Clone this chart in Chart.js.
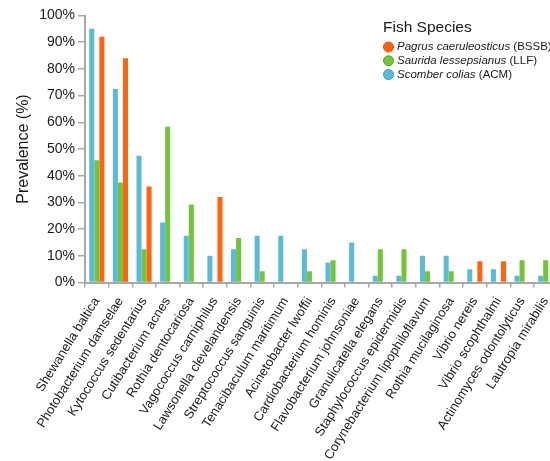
<!DOCTYPE html>
<html>
<head>
<meta charset="utf-8">
<script src="https://cdn.jsdelivr.net/npm/chart.js@4/dist/chart.umd.min.js"></script>
<style>
    html, body { margin: 0; padding: 0; background: #fff; overflow: hidden; }
    #wrap { width: 566px; height: 461px; }
</style>
</head>
<body>
<div id="wrap"><canvas id="chartPrevalencia" width="566" height="461"></canvas></div>
<script>
// Prevalência de bactérias por espécie de peixe (%)
const bacterias = [
    'Shewanella baltica', 'Photobacterium damselae', 'Kytococcus sedentarius',
    'Cutibacterium acnes', 'Rothia dentocariosa', 'Vagococcus carniphilus',
    'Lawsonella clevelandensis', 'Streptococcus sanguinis', 'Tenacibaculum maritimum',
    'Acinetobacter lwoffii', 'Cardiobacterium hominis', 'Flavobacterium johnsoniae',
    'Granulicatella elegans', 'Staphylococcus epidermidis', 'Corynebacterium lipophiloflavum',
    'Rothia mucilaginosa', 'Vibrio nereis', 'Vibrio scophthalmi',
    'Actinomyces odontolyticus', 'Lautropia mirabilis'
];

// Scomber colias (ACM)
const valoresACM = [95, 72.5, 47.5, 22.5, 17.5, 10, 12.5, 17.5, 17.5, 12.5, 7.5, 15, 2.5, 2.5, 10, 10, 5, 5, 2.5, 2.5];
// Saurida lessepsianus (LLF)
const valoresLLF = [45.8, 37.5, 12.5, 58.3, 29.2, null, 16.7, 4.2, null, 4.2, 8.3, null, 12.5, 12.5, 4.2, 4.2, null, null, 8.3, 8.3];
// Pagrus caeruleosticus (BSSB)
const valoresBSSB = [92, 84, 36, null, null, 32, null, null, null, null, null, null, null, null, null, null, 8, 8, null, null];

const especies = [
    { nome: 'Pagrus caeruleosticus', sigla: '(BSSB)', cor: '#ff6511', borda: '#d24f08' },
    { nome: 'Saurida lessepsianus', sigla: '(LLF)', cor: '#72c43b', borda: '#55a026' },
    { nome: 'Scomber colias', sigla: '(ACM)', cor: '#5bbbd6', borda: '#3f9bb6' }
];

const yTicks = [0, 10, 20, 30, 40, 50, 60, 70, 80, 90, 100];

const FONTE = '"Liberation Sans", Arial, sans-serif';
const CINZA_EIXO = '#a8a8a8';

// Legenda desenhada à mão (nome em itálico + sigla normal)
const legendaPeixes = {
    id: 'legendaPeixes',
    afterDraw(chart) {
        const ctx = chart.ctx;
        ctx.save();
        ctx.fillStyle = '#1a1a1a';
        ctx.textBaseline = 'middle';
        ctx.textAlign = 'left';
        ctx.font = '15.5px ' + FONTE;
        ctx.fillText('Fish Species', 383, 28);

        especies.forEach((e, i) => {
            const y = 47 + i * 13.8;
            ctx.beginPath();
            ctx.arc(388.5, y, 5, 0, Math.PI * 2);
            ctx.fillStyle = e.cor;
            ctx.fill();
            ctx.lineWidth = 1;
            ctx.strokeStyle = e.borda;
            ctx.stroke();

            ctx.fillStyle = '#1a1a1a';
            ctx.font = 'italic 11.5px ' + FONTE;
            ctx.fillText(e.nome, 397, y);
            const w = ctx.measureText(e.nome + ' ').width;
            ctx.font = '11.5px ' + FONTE;
            ctx.fillText(e.sigla, 397 + w, y);
        });
        ctx.restore();
    }
};

const ctx = document.getElementById('chartPrevalencia').getContext('2d');
new Chart(ctx, {
    type: 'bar',
    data: {
        labels: bacterias,
        datasets: [
            { label: 'Scomber colias (ACM)', data: valoresACM, backgroundColor: especies[2].cor },
            { label: 'Saurida lessepsianus (LLF)', data: valoresLLF, backgroundColor: especies[1].cor },
            { label: 'Pagrus caeruleosticus (BSSB)', data: valoresBSSB, backgroundColor: especies[0].cor }
        ]
    },
    options: {
        responsive: false,
        animation: false,
        layout: { padding: { top: 15.5, right: 3, left: 0, bottom: 0 } },
        datasets: { bar: { categoryPercentage: 0.64, barPercentage: 1 } },
        plugins: {
            legend: { display: false },
            tooltip: { enabled: false }
        },
        scales: {
            x: {
                afterFit: s => { s.height = 178.5; },
                border: { color: CINZA_EIXO, width: 2 },
                grid: { display: true, drawOnChartArea: false, tickLength: 5, color: CINZA_EIXO, lineWidth: 1.5 },
                ticks: {
                    autoSkip: false,
                    minRotation: 58,
                    maxRotation: 58,
                    padding: 7,
                    color: '#1a1a1a',
                    font: { family: FONTE, size: 13 }
                }
            },
            y: {
                min: 0,
                max: 100,
                afterFit: s => { s.width = 85; },
                afterBuildTicks: s => { s.ticks = yTicks.map(v => ({ value: v })); },
                border: { color: CINZA_EIXO, width: 2 },
                grid: { drawOnChartArea: false, tickLength: 7, color: CINZA_EIXO, lineWidth: 1.5 },
                ticks: {
                    padding: 3,
                    color: '#1a1a1a',
                    font: { family: FONTE, size: 14 },
                    callback: v => v + '%'
                },
                title: {
                    display: true,
                    text: 'Prevalence (%)',
                    color: '#1a1a1a',
                    font: { family: FONTE, size: 16 },
                    padding: { top: 14, bottom: 0 }
                }
            }
        }
    },
    plugins: [legendaPeixes]
});
</script>
</body>
</html>
